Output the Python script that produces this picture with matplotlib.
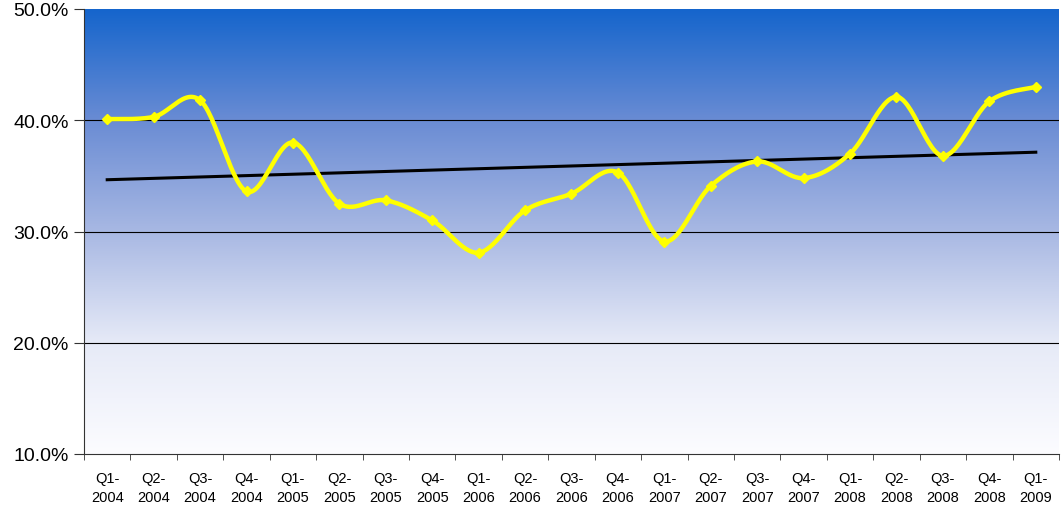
import numpy as np
import matplotlib
matplotlib.use("Agg")
import matplotlib.pyplot as plt
from matplotlib.colors import LinearSegmentedColormap

categories = ["Q1-\n2004", "Q2-\n2004", "Q3-\n2004", "Q4-\n2004",
              "Q1-\n2005", "Q2-\n2005", "Q3-\n2005", "Q4-\n2005",
              "Q1-\n2006", "Q2-\n2006", "Q3-\n2006", "Q4-\n2006",
              "Q1-\n2007", "Q2-\n2007", "Q3-\n2007", "Q4-\n2007",
              "Q1-\n2008", "Q2-\n2008", "Q3-\n2008", "Q4-\n2008",
              "Q1-\n2009"]
values = [40.1, 40.3, 41.8, 33.6, 38.0, 32.5, 32.8, 31.0, 28.1, 31.9, 33.4,
          35.3, 29.1, 34.1, 36.3, 34.8, 37.0, 42.1, 36.8, 41.7, 43.0]
yticks = [10, 20, 30, 40, 50]
ytick_labels = ["10.0%", "20.0%", "30.0%", "40.0%", "50.0%"]

plt.rcParams['font.family'] = ['Liberation Sans', 'DejaVu Sans']

fig = plt.figure(figsize=(10.61, 5.06), dpi=100)
ax = fig.add_axes([84/1061, 51/506, 975/1061, 445/506])

n = len(values)
x = np.arange(n)
ax.set_xlim(-0.5, n - 0.5)
ax.set_ylim(10, 50)

# gradient background
cmap = LinearSegmentedColormap.from_list(
    "bg", [(0.0, "#fcfcff"), (0.25, "#e6eaf7"), (0.5, "#a8b8e3"),
           (0.75, "#6a8cd4"), (1.0, "#1565cc")])
grad = np.linspace(0, 1, 256).reshape(-1, 1)
ax.imshow(grad, extent=(-0.5, n - 0.5, 10, 50), origin="lower", aspect="auto",
          cmap=cmap, zorder=0)

for g in [20, 30, 40]:
    ax.axhline(g, color="black", lw=0.8, zorder=1)

# Catmull-Rom smoothing (Excel style)
pts = np.column_stack([x, values]).astype(float)
ext = np.vstack([pts[0], pts, pts[-1]])
sx, sy = [], []
for i in range(1, len(ext) - 2):
    p0, p1, p2, p3 = ext[i - 1], ext[i], ext[i + 1], ext[i + 2]
    t = np.linspace(0, 1, 30)[:, None]
    c = 0.5 * ((2 * p1) + (-p0 + p2) * t + (2 * p0 - 5 * p1 + 4 * p2 - p3) * t ** 2
               + (-p0 + 3 * p1 - 3 * p2 + p3) * t ** 3)
    sx.extend(c[:, 0]); sy.extend(c[:, 1])
ax.plot(sx, sy, color="#ffff00", lw=3.2, zorder=3, solid_capstyle="round")
ax.plot(x, values, linestyle="none", marker="D", ms=5, color="#ffff00", zorder=4)

# linear trend
coef = np.polyfit(x, values, 1)
ax.plot(x, np.polyval(coef, x), color="black", lw=2.2, zorder=2)

ax.set_yticks(yticks)
ax.set_yticklabels(ytick_labels, fontsize=14)
ax.set_xticks(x)
ax.set_xticklabels(categories, fontsize=10.5, linespacing=1.5)
ax.set_xticks(np.arange(-0.5, n, 1), minor=True)
ax.tick_params(axis="x", which="major", length=0, pad=12)
ax.tick_params(axis="x", which="minor", length=4, direction="out", color="#333333")
ax.tick_params(axis="y", length=7, direction="out", color="#333333", pad=4)

for s in ["top", "right"]:
    ax.spines[s].set_visible(False)
ax.spines["left"].set_color("#333333")
ax.spines["bottom"].set_color("#333333")

fig.savefig("out.png", dpi=100)
